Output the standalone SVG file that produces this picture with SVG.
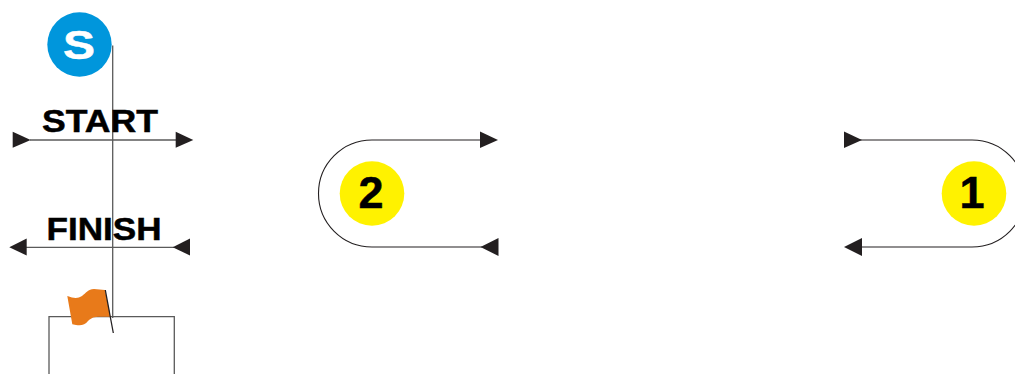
<svg xmlns="http://www.w3.org/2000/svg" width="1015" height="374" viewBox="0 0 1015 374">
<style>
.ln{fill:none;stroke:#5a5a5a;stroke-width:1.3}
.cv{fill:none;stroke:#231f20;stroke-width:1.1}
.ah{fill:#231f20}
.lbl{font-family:"Liberation Sans",Arial,sans-serif;font-weight:bold;fill:#000;stroke:#000;stroke-width:0.5}
.yc{fill:#fff200}
</style>
<rect width="1015" height="374" fill="#fff"/>
<g id="connectors">
<line class="ln" x1="112.7" y1="45.5" x2="112.7" y2="318"/>
<line class="ln" x1="30" y1="140" x2="177" y2="140"/>
<polygon class="ah" points="12.7,131.7 30.7,140 12.7,147.7"/>
<polygon class="ah" points="175.7,131.7 193.3,140 175.7,147.7"/>
<line class="ln" x1="26" y1="247.3" x2="174" y2="247.3"/>
<polygon class="ah" points="9.3,247.3 26.7,238.5 26.7,255.5"/>
<polygon class="ah" points="172.7,247.3 190,238.5 190,255.5"/>
<path class="cv" d="M482,140 H372 A53.5,53.5 0 0 0 372,247 H482"/>
<polygon class="ah" points="480,131.5 498,140 480,148"/>
<polygon class="ah" points="480.5,247 498.5,238 498.5,256"/>
<path class="cv" d="M860,140 H972 A53.5,53.5 0 0 1 972,247 H860"/>
<polygon class="ah" points="844,131.5 862,140 844,148"/>
<polygon class="ah" points="844,247 862,238 862,256"/>
</g>
<g id="s-marker">
<circle cx="79.5" cy="44.5" r="32.2" fill="#0096dc"/>
<text class="lbl" x="79" y="58.5" font-size="40" text-anchor="middle" textLength="32" lengthAdjust="spacingAndGlyphs" style="fill:#fff;stroke:#fff">S</text>
</g>
<g id="start">
<text class="lbl" x="100" y="132.3" font-size="32" text-anchor="middle" textLength="116" lengthAdjust="spacingAndGlyphs">START</text>
</g>
<g id="finish">
<text class="lbl" x="104" y="240" font-size="32" text-anchor="middle" textLength="115" lengthAdjust="spacingAndGlyphs">FINISH</text>
</g>
<g id="flag-box">
<path class="ln" d="M49,374 V316.7 H174.3 V374"/>
<path d="M67.3,296 C74,298.5 78,298.5 82,296 C86,293 88,289 94,289 L105,290 L110.5,316.7 L100,316.7 C94,316.7 91.7,317.5 88,321 C85,325 81,326 76,325 L72.3,324.3 Z" fill="#e87a1a"/>
<line x1="105.3" y1="290" x2="113.3" y2="333" stroke="#231f20" stroke-width="1.3"/>
</g>
<g id="turn-2">
<circle class="yc" cx="372" cy="193.5" r="32.3"/>
<text class="lbl" x="371" y="207.5" font-size="45" text-anchor="middle">2</text>
</g>
<g id="turn-1">
<circle class="yc" cx="974" cy="193.5" r="32.3"/>
<text class="lbl" x="972" y="207.5" font-size="45" text-anchor="middle">1</text>
</g>
</svg>
